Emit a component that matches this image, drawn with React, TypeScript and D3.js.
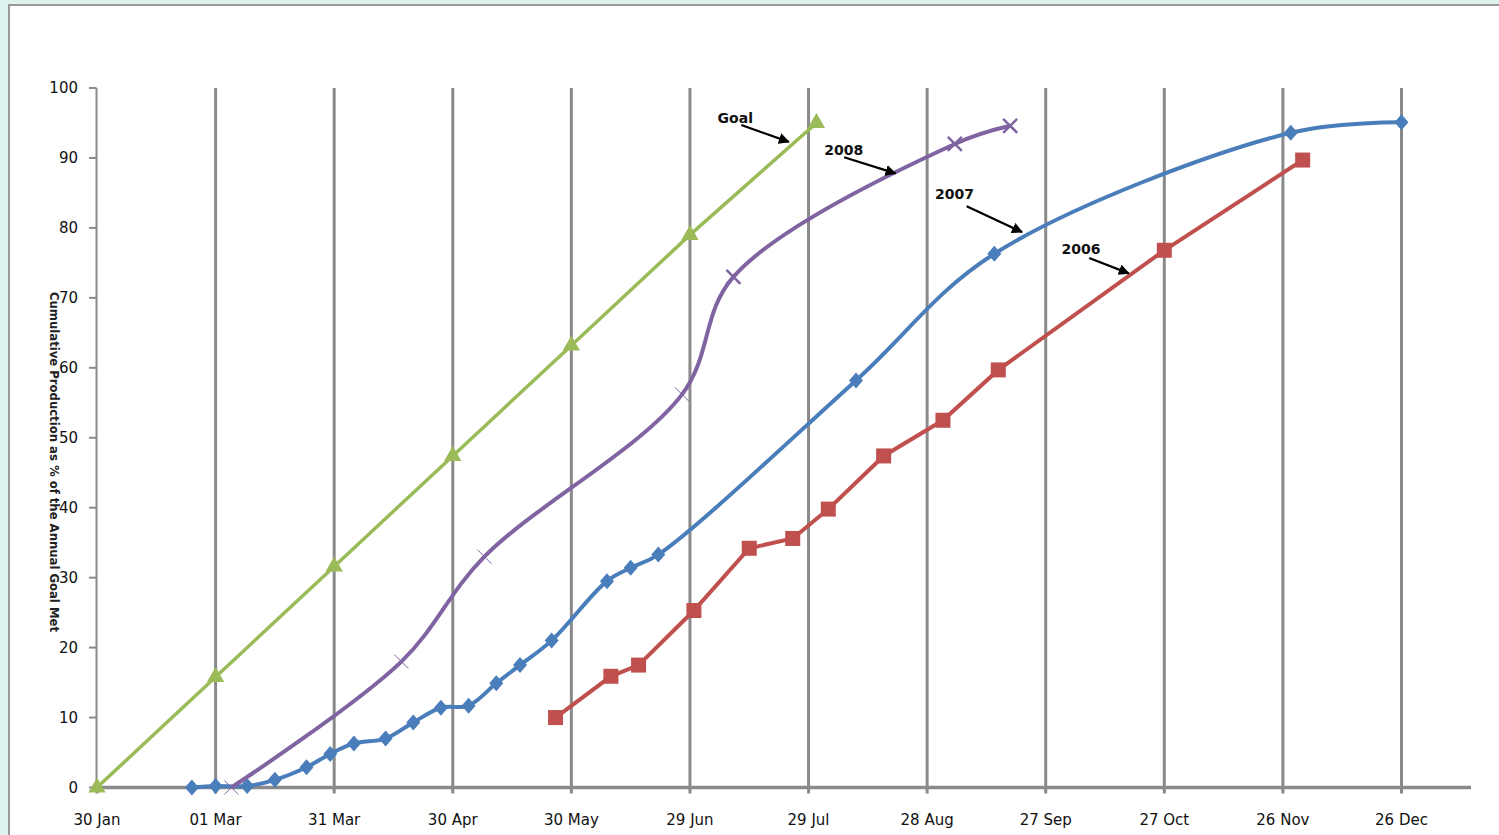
import React from "react";
import * as d3 from "d3";

// ---- data ----
const startDate = "2007-01-30";
const endDate = "2008-01-12T14:00:00Z";
const tickStepDays = 30;
const tickCount = 12;
const yTicks = [0, 10, 20, 30, 40, 50, 60, 70, 80, 90, 100];

const goalDates = ["2007-01-30", "2007-03-01", "2007-03-31", "2007-04-30", "2007-05-30", "2007-06-29", "2007-07-31"];
const goalValues = [0, 15.8, 31.6, 47.4, 63.2, 79.0, 95.0];

const y2008Dates = ["2007-03-05", "2007-04-17", "2007-05-08", "2007-06-27", "2007-07-10", "2007-09-04", "2007-09-18"];
const y2008Values = [0, 18.0, 33.0, 56.2, 73.0, 92.0, 94.6];

const y2007Dates = [
  "2007-02-23", "2007-03-01", "2007-03-09", "2007-03-16", "2007-03-24", "2007-03-30", "2007-04-05",
  "2007-04-13", "2007-04-20", "2007-04-27", "2007-05-04", "2007-05-11", "2007-05-17", "2007-05-25",
  "2007-06-08", "2007-06-14", "2007-06-21", "2007-08-10", "2007-09-14", "2007-11-28", "2007-12-26",
];
const y2007Values = [
  0, 0.2, 0.2, 1.1, 2.9, 4.8, 6.3,
  7.0, 9.3, 11.4, 11.7, 14.9, 17.5, 21.0,
  29.5, 31.4, 33.3, 58.2, 76.3, 93.6, 95.1,
];

const y2006Dates = [
  "2007-05-26", "2007-06-09", "2007-06-16", "2007-06-30", "2007-07-14", "2007-07-25",
  "2007-08-03", "2007-08-17", "2007-09-01", "2007-09-15", "2007-10-27", "2007-12-01",
];
const y2006Values = [10.0, 15.9, 17.5, 25.3, 34.2, 35.6, 39.8, 47.4, 52.5, 59.7, 76.8, 89.7];

// annotation labels: text anchor, arrow tail, arrow tip (date, value)
const annLabels = ["Goal", "2008", "2007", "2006"];
const annTextDates = ["2007-07-06", "2007-08-02", "2007-08-30", "2007-10-01"];
const annTextValues = [95.0, 90.4, 84.1, 76.3];
const annTailDates = ["2007-07-12", "2007-08-07", "2007-09-07", "2007-10-08"];
const annTailValues = [94.7, 90.1, 83.1, 75.7];
const annTipDates = ["2007-07-24", "2007-08-20", "2007-09-21", "2007-10-18"];
const annTipValues = [92.3, 87.8, 79.4, 73.5];

const yAxisTitle = "Cumulative Production as % of the Annual Goal Met";

// ---- helpers ----
const parse = (s: string) => (s.length > 10 ? new Date(s) : d3.utcParse("%Y-%m-%d")(s)!);
const zip = (ds: string[], vs: number[]) => ds.map((d, i) => ({ date: parse(d), value: vs[i] }));

const W = 1499;
const H = 835;
const FONT = "'DejaVu Sans', 'Liberation Sans', sans-serif";

export default function App() {
  const start = parse(startDate);
  const x = d3.scaleUtc().domain([start, parse(endDate)]).range([97, 1471]);
  const y = d3.scaleLinear().domain([0, 100]).range([787.5, 88]);
  const xTicks = d3.range(tickCount).map((i) => d3.utcDay.offset(start, i * tickStepDays));
  const fmt = d3.utcFormat("%d %b");

  const goal = zip(goalDates, goalValues);
  const s2008 = zip(y2008Dates, y2008Values);
  const s2007 = zip(y2007Dates, y2007Values);
  const s2006 = zip(y2006Dates, y2006Values);

  type P = { date: Date; value: number };
  const straight = d3.line<P>().x((d) => x(d.date)).y((d) => y(d.value));
  const smooth = d3.line<P>().x((d) => x(d.date)).y((d) => y(d.value)).curve(d3.curveCatmullRom.alpha(0.5));

  const tri = d3.symbol().type(d3.symbolTriangle).size(130)()!;
  const GREEN = "#9bbb59";
  const PURPLE = "#8064a2";
  const BLUE = "#4a7ebb";
  const RED = "#c0504d";
  const GRID = "#8a8a8a";

  return (
    <svg width={W} height={H} style={{ position: "absolute", left: 0, top: 0, display: "block" }}>
      <defs>
        <marker id="arrowhead" viewBox="0 0 10 10" refX="9" refY="5" markerWidth="5" markerHeight="5" orient="auto">
          <path d="M0,0 L10,5 L0,10 Z" fill="#000" />
        </marker>
      </defs>
      <rect x={0} y={0} width={W} height={H} fill="#dcf3f0" />
      <rect x={9} y={5} width={W + 10} height={H + 10} fill="#ffffff" stroke="#9a9a9a" strokeWidth={2} />

      {/* vertical gridlines */}
      {xTicks.map((t, i) => (
        <line
          key={"g" + i}
          x1={x(t)}
          x2={x(t)}
          y1={i === 0 ? y(0) : y(100)}
          y2={y(0) + 6}
          stroke={GRID}
          strokeWidth={3}
        />
      ))}

      {/* y axis */}
      <line x1={96.5} x2={96.5} y1={y(100)} y2={y(0)} stroke={GRID} strokeWidth={2} />
      {yTicks.map((v) => (
        <g key={"y" + v}>
          <line x1={89} x2={96.5} y1={y(v)} y2={y(v)} stroke={GRID} strokeWidth={2} />
          <text x={78} y={y(v)} dy="0.36em" textAnchor="end" fontFamily={FONT} fontSize={15} fill="#111">
            {v}
          </text>
        </g>
      ))}
      {/* x axis */}
      <line x1={96} x2={1471} y1={y(0)} y2={y(0)} stroke={GRID} strokeWidth={3.5} />
      {xTicks.map((t, i) => (
        <text key={"xl" + i} x={x(t)} y={825} textAnchor="middle" fontFamily={FONT} fontSize={15} fill="#111">
          {fmt(t)}
        </text>
      ))}

      {/* y axis title */}
      <text
        transform={`translate(50,462) rotate(90)`}
        textAnchor="middle"
        fontFamily={FONT}
        fontSize={12}
        fontWeight="bold"
        fill="#222"
        textLength={340}
        lengthAdjust="spacingAndGlyphs"
      >
        {yAxisTitle}
      </text>

      {/* 2006 */}
      <path d={straight(s2006)!} fill="none" stroke={RED} strokeWidth={4} />
      {s2006.map((d, i) => (
        <rect key={"r" + i} x={x(d.date) - 7.5} y={y(d.value) - 7.5} width={15} height={15} fill={RED} />
      ))}

      {/* 2007 */}
      <path d={smooth(s2007)!} fill="none" stroke={BLUE} strokeWidth={4} />
      {s2007.map((d, i) => {
        const cx = x(d.date);
        const cy = y(d.value);
        return <path key={"b" + i} d={`M${cx},${cy - 8}L${cx + 7},${cy}L${cx},${cy + 8}L${cx - 7},${cy}Z`} fill={BLUE} />;
      })}

      {/* 2008 */}
      <path d={smooth(s2008)!} fill="none" stroke={PURPLE} strokeWidth={4} />
      {s2008.map((d, i) => {
        const cx = x(d.date);
        const cy = y(d.value);
        const r = 7;
        const sw = i < 4 ? 1 : 2.5;
        return (
          <g key={"p" + i} stroke={PURPLE} strokeWidth={sw}>
            <line x1={cx - r} y1={cy - r} x2={cx + r} y2={cy + r} />
            <line x1={cx - r} y1={cy + r} x2={cx + r} y2={cy - r} />
          </g>
        );
      })}

      {/* Goal */}
      <path d={straight(goal)!} fill="none" stroke={GREEN} strokeWidth={3.5} />
      {goal.map((d, i) => (
        <path key={"t" + i} d={tri} transform={`translate(${x(d.date)},${y(d.value)})`} fill={GREEN} />
      ))}

      {/* annotations */}
      {annLabels.map((lab, i) => (
        <g key={"a" + i}>
          <text
            x={x(parse(annTextDates[i]))}
            y={y(annTextValues[i])}
            fontFamily={FONT}
            fontSize={14}
            fontWeight="bold"
            fill="#111"
          >
            {lab}
          </text>
          <line
            x1={x(parse(annTailDates[i]))}
            y1={y(annTailValues[i])}
            x2={x(parse(annTipDates[i]))}
            y2={y(annTipValues[i])}
            stroke="#000"
            strokeWidth={2.2}
            markerEnd="url(#arrowhead)"
          />
        </g>
      ))}
    </svg>
  );
}
